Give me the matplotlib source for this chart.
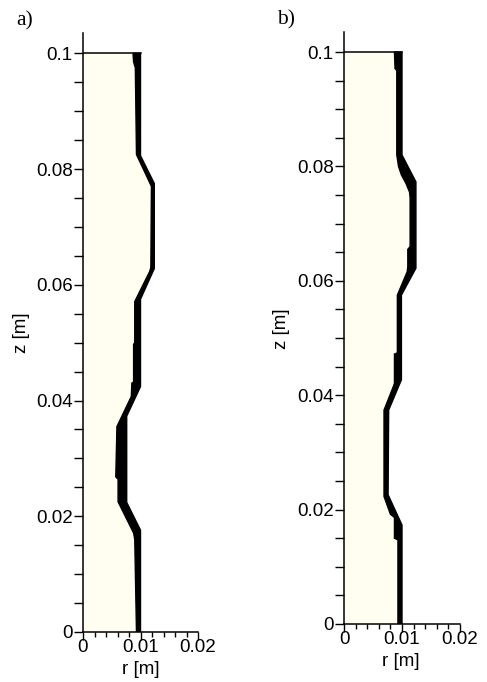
import numpy as np
import matplotlib
matplotlib.use("Agg")
from matplotlib import pyplot as plt
from matplotlib.ticker import MultipleLocator, FuncFormatter

plt.rcParams['font.family'] = ['Liberation Sans', 'DejaVu Sans']

# panel a) wall profile: outer and inner edge of the black band
z_out_a = [0.1, 0.0823, 0.0775, 0.0628, 0.0575, 0.0424, 0.0373, 0.0224, 0.0176, 0.0]
r_out_a = [0.0100, 0.0100, 0.0124, 0.0124, 0.0100, 0.0100, 0.0076, 0.0076, 0.0100, 0.0100]
z_in_a = [0.1, 0.0985, 0.0975, 0.0825, 0.0770, 0.0630, 0.0623, 0.0571, 0.0500, 0.0497,
          0.0432, 0.0430, 0.0407, 0.0355, 0.0268, 0.0264, 0.0225, 0.0171, 0.0160, 0.0]
r_in_a = [0.0087, 0.0088, 0.0091, 0.0093, 0.0119, 0.0118, 0.0116, 0.0090, 0.0090, 0.0088,
          0.0088, 0.0085, 0.0084, 0.0059, 0.0057, 0.0061, 0.0061, 0.0088, 0.0090, 0.0093]

# panel b)
z_out_b = [0.1, 0.0820, 0.0773, 0.0622, 0.0575, 0.0427, 0.0374, 0.0226, 0.0173, 0.0]
r_out_b = [0.0100, 0.0100, 0.0124, 0.0124, 0.0099, 0.0099, 0.0077, 0.0076, 0.0100, 0.0100]
z_in_b = [0.1, 0.0971, 0.0968, 0.0820, 0.0800, 0.0785, 0.0770, 0.0755, 0.0745, 0.0660,
          0.0655, 0.0625, 0.0616, 0.0575, 0.0474, 0.0472, 0.0421, 0.0415, 0.0374, 0.0223,
          0.0192, 0.0186, 0.0150, 0.0147, 0.0]
r_in_b = [0.0087, 0.0088, 0.0091, 0.0091, 0.0094, 0.0099, 0.0107, 0.0113, 0.0114, 0.0114,
          0.0110, 0.0110, 0.0109, 0.0092, 0.0092, 0.0087, 0.0087, 0.0085, 0.0069, 0.0069,
          0.0080, 0.0087, 0.0087, 0.0093, 0.0093]

x_ticks = [0, 0.01, 0.02]
z_ticks = [0, 0.02, 0.04, 0.06, 0.08, 0.1]

cream = '#fffef0'
fs = 13.5
fmt = FuncFormatter(lambda v, p: '%g' % round(v, 4))


def panel(ax, z_out, r_out, z_in, r_in):
    ax.fill_betweenx(z_in, 0, r_in, color=cream, lw=0)
    ax.fill(np.r_[r_out, r_in[::-1]], np.r_[z_out, z_in[::-1]], facecolor='k',
            edgecolor='k', lw=1.0)
    ax.plot([0, r_out[0]], [z_out[0], z_out[0]], color='k', lw=1.1)
    ax.set_xlim(0, 0.02)
    ax.set_ylim(0, 0.1035)
    ax.spines['top'].set_visible(False)
    ax.spines['right'].set_visible(False)
    ax.spines['left'].set_linewidth(1.1)
    ax.spines['bottom'].set_linewidth(1.1)
    ax.set_xticks(x_ticks)
    ax.set_yticks(z_ticks)
    ax.xaxis.set_minor_locator(MultipleLocator(0.002))
    ax.yaxis.set_minor_locator(MultipleLocator(0.005))
    ax.xaxis.set_major_formatter(fmt)
    ax.yaxis.set_major_formatter(fmt)
    ax.tick_params(axis='y', which='both', direction='out', length=6.5, width=1, pad=1,
                   labelsize=fs)
    ax.tick_params(axis='x', which='major', direction='out', length=5.5, width=1, pad=-0.5,
                   labelsize=fs)
    ax.tick_params(axis='x', which='minor', direction='out', length=3.5, width=1)


fig = plt.figure(figsize=(4.87, 6.82), dpi=100)
ax1 = fig.add_axes([83 / 487, 50 / 682, 115 / 487, 599 / 682])
ax2 = fig.add_axes([344 / 487, 58 / 682, 116 / 487, 592 / 682])

panel(ax1, np.array(z_out_a), np.array(r_out_a), np.array(z_in_a), np.array(r_in_a))
panel(ax2, np.array(z_out_b), np.array(r_out_b), np.array(z_in_b), np.array(r_in_b))

fig.text(22 / 487, 1 - 333 / 682, 'z [m]', rotation=90, ha='center', va='center', fontsize=fs)
fig.text(281 / 487, 1 - 329 / 682, 'z [m]', rotation=90, ha='center', va='center', fontsize=fs)
fig.text(141 / 487, 1 - 669 / 682, 'r [m]', ha='center', va='center', fontsize=fs)
fig.text(401 / 487, 1 - 662 / 682, 'r [m]', ha='center', va='center', fontsize=fs)

fig.text(25 / 487, 1 - 21 / 682, 'a)', ha='center', va='center', fontsize=15.5,
         family='Liberation Serif')
fig.text(286 / 487, 1 - 20 / 682, 'b)', ha='center', va='center', fontsize=15.5,
         family='Liberation Serif')

fig.savefig('out.png', dpi=100)
